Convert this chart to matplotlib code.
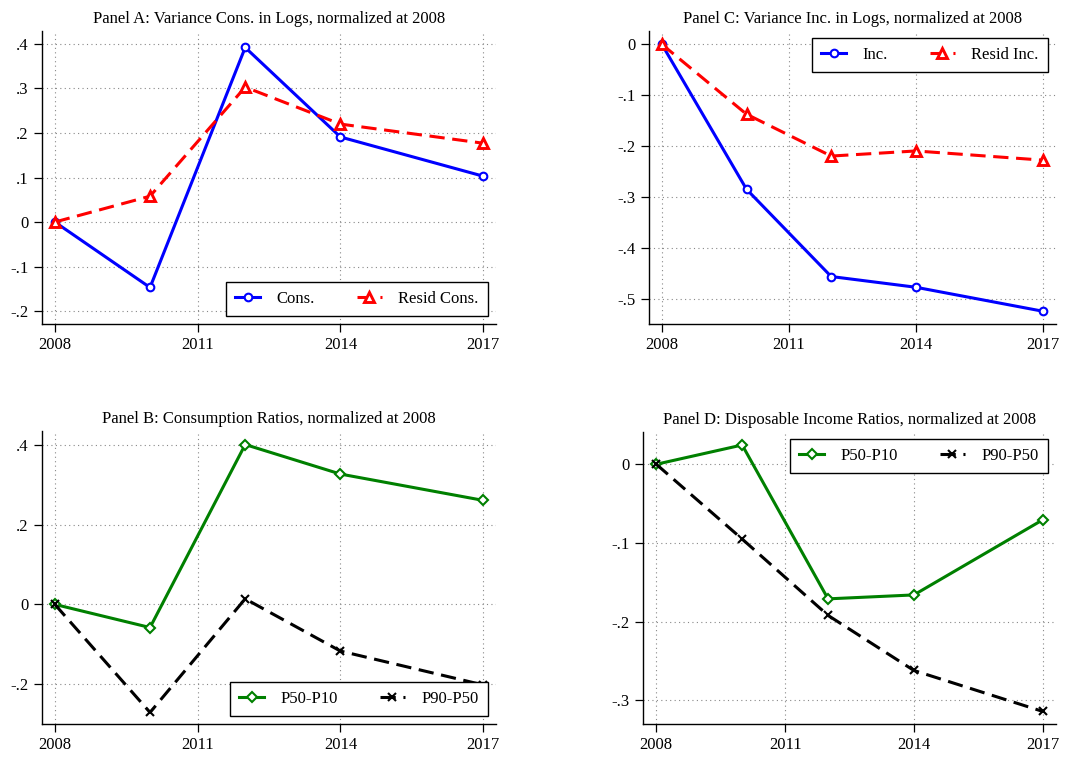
import matplotlib
matplotlib.use("Agg")
import matplotlib.pyplot as plt
from matplotlib.ticker import FuncFormatter

plt.rcParams['font.family'] = ['Liberation Serif', 'DejaVu Serif']

years = [2008, 2010, 2012, 2014, 2017]
xticks = [2008, 2011, 2014, 2017]

# Panel A
cons_var = [0.0, -0.147, 0.392, 0.191, 0.103]
resid_cons_var = [0.0, 0.058, 0.303, 0.220, 0.177]
# Panel C
inc_var = [0.0, -0.284, -0.455, -0.476, -0.523]
resid_inc_var = [0.0, -0.137, -0.219, -0.209, -0.227]
# Panel B
cons_p50p10 = [0.0, -0.058, 0.401, 0.327, 0.261]
cons_p90p50 = [0.0, -0.271, 0.014, -0.117, -0.202]
# Panel D
inc_p50p10 = [0.0, 0.0245, -0.171, -0.166, -0.0706]
inc_p90p50 = [0.0, -0.095, -0.192, -0.262, -0.314]

W, H = 1077, 759
fig = plt.figure(figsize=(W / 100, H / 100), dpi=100)


def box(l, r, t, b):
    return [l / W, 1 - b / H, (r - l) / W, (b - t) / H]


def fmt(v, pos):
    if abs(v) < 1e-9:
        return "0"
    s = f"{v:.1f}"
    s = s.replace("0.", ".")
    return s


def style(ax, title, yticks, ylim, xlim):
    ax.set_title(title, fontsize=12, pad=6)
    for s in ['top', 'right']:
        ax.spines[s].set_visible(False)
    ax.spines['left'].set_linewidth(1.0)
    ax.spines['bottom'].set_linewidth(1.0)
    ax.set_xticks(xticks)
    ax.set_yticks(yticks)
    ax.yaxis.set_major_formatter(FuncFormatter(fmt))
    ax.set_ylim(*ylim)
    ax.set_xlim(*xlim)
    ax.tick_params(axis='both', labelsize=12, length=6, direction='out', width=0.9)
    ax.grid(True, linestyle=(0, (1, 3)), color='#888888', linewidth=0.8)
    ax.set_axisbelow(True)


def leg(ax, r, t):
    ax_l, ax_b, ax_w, ax_h = ax.get_position().bounds
    ax_r = ax_l + ax_w
    ax_t = ax_b + ax_h
    x = (r / W - ax_l) / ax_w
    y = ((1 - t / H) - ax_b) / ax_h
    lg = ax.legend(ncol=2, loc='upper right', bbox_to_anchor=(x, y),
                   fontsize=12, frameon=True, fancybox=False, edgecolor='black',
                   framealpha=1, handlelength=1.5, handletextpad=1.0,
                   columnspacing=2.5, borderaxespad=0, borderpad=0.55)
    lg.get_frame().set_linewidth(1.0)


lw = 2.2
ms = 5.5
mew = 1.5
dash = (0, (5, 2.5))

# Panel A
axA = fig.add_axes(box(42, 496, 31, 324))
axA.plot(years, cons_var, color='blue', lw=lw, marker='o', ms=ms, mfc='white', mew=mew, label='Cons.')
axA.plot(years, resid_cons_var, color='red', lw=lw, ls=dash, marker='^', ms=ms + 1, mfc='white', mew=mew + 0.6, label='Resid Cons.')
style(axA, "Panel A: Variance Cons. in Logs, normalized at 2008",
      [-0.2, -0.1, 0, 0.1, 0.2, 0.3, 0.4], (-0.229, 0.429), (2007.73, 2017.27))
leg(axA, 488, 282)

# Panel C
axC = fig.add_axes(box(648.7, 1056, 31, 324))
axC.plot(years, inc_var, color='blue', lw=lw, marker='o', ms=ms, mfc='white', mew=mew, label='Inc.')
axC.plot(years, resid_inc_var, color='red', lw=lw, ls=dash, marker='^', ms=ms + 1, mfc='white', mew=mew + 0.6, label='Resid Inc.')
style(axC, "Panel C: Variance Inc. in Logs, normalized at 2008",
      [-0.5, -0.4, -0.3, -0.2, -0.1, 0], (-0.548, 0.026), (2007.69, 2017.31))
leg(axC, 1048, 38)

# Panel B
axB = fig.add_axes(box(42, 496, 431, 724))
axB.plot(years, cons_p50p10, color='green', lw=lw, marker='D', ms=ms - 0.5, mfc='white', mew=mew, label='P50-P10')
axB.plot(years, cons_p90p50, color='black', lw=lw, ls=dash, marker='x', ms=ms, mew=mew, label='P90-P50')
style(axB, "Panel B: Consumption Ratios, normalized at 2008",
      [-0.2, 0, 0.2, 0.4], (-0.30, 0.435), (2007.73, 2017.27))
leg(axB, 488, 682)

# Panel D
axD = fig.add_axes(box(643, 1056, 432, 724))
axD.plot(years, inc_p50p10, color='green', lw=lw, marker='D', ms=ms - 0.5, mfc='white', mew=mew, label='P50-P10')
axD.plot(years, inc_p90p50, color='black', lw=lw, ls=dash, marker='x', ms=ms, mew=mew, label='P90-P50')
style(axD, "Panel D: Disposable Income Ratios, normalized at 2008",
      [-0.3, -0.2, -0.1, 0], (-0.33, 0.041), (2007.69, 2017.31))
leg(axD, 1048, 439)

fig.savefig("out.png", dpi=100, facecolor='white')
